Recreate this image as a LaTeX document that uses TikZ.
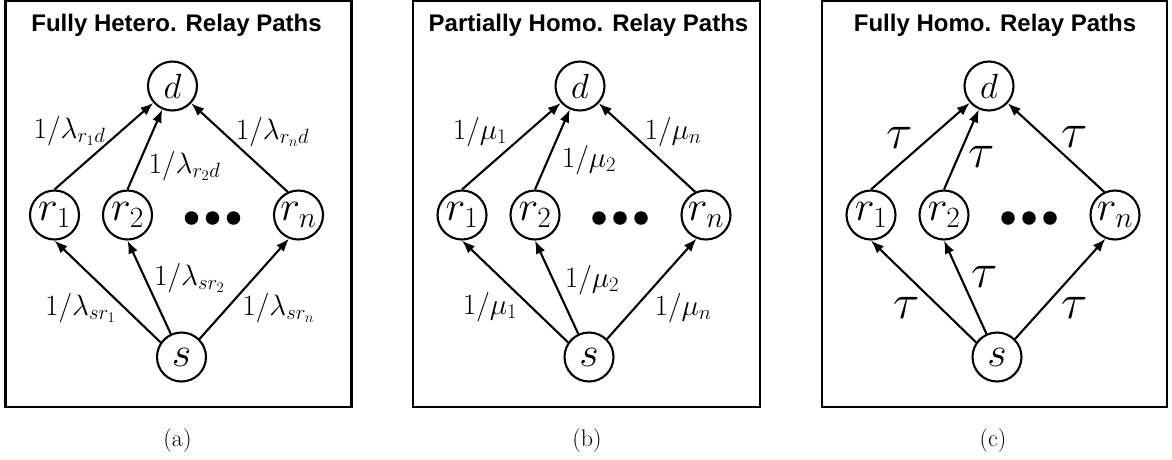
\RequirePackage{fix-cm}
\documentclass[tikz,border=0pt]{standalone}
\usepackage{fontspec}
\newfontfamily\titlefont{Liberation Sans}
\usetikzlibrary{arrows.meta}
\tikzset{
  panelbox/.style={draw, line width=2.5pt},
  vtx/.style={circle, draw, line width=2.1pt, minimum size=49pt, inner sep=0pt},
  dfont/.style={font=\fontsize{35}{37}\selectfont},
  rfont/.style={font=\fontsize{42}{44}\selectfont},
  lbl/.style={font=\fontsize{29.5}{32}\selectfont, inner sep=0pt},
  taulbl/.style={font=\fontsize{49}{51}\selectfont, inner sep=0pt},
  edge/.style={-{Latex[length=13pt,width=10pt]}, line width=2.1pt},
  ttl/.style={font=\fontsize{24}{26}\selectfont\titlefont\bfseries, anchor=base, inner sep=0pt},
  sublbl/.style={font=\fontsize{24}{26}\selectfont, inner sep=0pt},
  dotmark/.style={circle, fill=black, minimum size=13.5pt, inner sep=0pt}
}
\begin{document}
\begin{tikzpicture}[x=1pt,y=-1pt]
\useasboundingbox (0,0) rectangle (1172,459);
% ---------- panel (a)
\begin{scope}[shift={(5.5,0)}]
  \draw[panelbox] (0,1) rectangle (346,407);
  \node[ttl] (a-t) at (171,31) {Fully Hetero. Relay Paths};
  \node[vtx,dfont] (a-d) at (167,86) {$d$};
  \node[vtx,rfont] (a-r1) at (49,215) {$r_1$};
  \node[vtx,rfont] (a-r2) at (122,215) {$r_2$};
  \node[vtx,rfont] (a-rn) at (293,215) {$r_n$};
  \node[vtx,rfont] (a-s) at (176,357) {$s$};
  \node[dotmark] (a-p1) at (186,218) {};
  \node[dotmark] (a-p2) at (207,218) {};
  \node[dotmark] (a-p3) at (228,218) {};
  \draw[edge] (a-r1.north) -- (a-d);
  \draw[edge] (a-r2.north) -- (a-d);
  \draw[edge] (a-rn.115) -- (a-d);
  \draw[edge] (a-s.145) -- (a-r1.south);
  \draw[edge] (a-s) -- (a-r2.south);
  \draw[edge] (a-s.45) -- (a-rn.248);
  \node[lbl] (a-l1) at (64,131) {$1/\lambda_{r_1d}$};
  \node[lbl] (a-l2) at (179,166) {$1/\lambda_{r_2d}$};
  \node[lbl] (a-l3) at (267,132) {$1/\lambda_{r_nd}$};
  \node[lbl] (a-l4) at (75,308) {$1/\lambda_{sr_1}$};
  \node[lbl] (a-l5) at (184,278) {$1/\lambda_{sr_2}$};
  \node[lbl] (a-l6) at (273,308) {$1/\lambda_{sr_n}$};
  \node[sublbl] (a-c) at (172,441) {(a)};
\end{scope}
% ---------- panel (b)
\begin{scope}[shift={(413,0)}]
  \draw[panelbox] (0,1) rectangle (347,407);
  \node[ttl] (b-t) at (175.5,31) {Partially Homo. Relay Paths};
  \node[vtx,dfont] (b-d) at (167,86) {$d$};
  \node[vtx,rfont] (b-r1) at (49,215) {$r_1$};
  \node[vtx,rfont] (b-r2) at (122,215) {$r_2$};
  \node[vtx,rfont] (b-rn) at (293,215) {$r_n$};
  \node[vtx,rfont] (b-s) at (176,357) {$s$};
  \node[dotmark] (b-p1) at (186,218) {};
  \node[dotmark] (b-p2) at (207,218) {};
  \node[dotmark] (b-p3) at (228,218) {};
  \draw[edge] (b-r1.north) -- (b-d);
  \draw[edge] (b-r2.north) -- (b-d);
  \draw[edge] (b-rn.115) -- (b-d);
  \draw[edge] (b-s.145) -- (b-r1.south);
  \draw[edge] (b-s) -- (b-r2.south);
  \draw[edge] (b-s.45) -- (b-rn.248);
  \node[lbl] (b-l1) at (67,132) {$1/\mu_1$};
  \node[lbl] (b-l2) at (176,160) {$1/\mu_2$};
  \node[lbl] (b-l3) at (260,132) {$1/\mu_n$};
  \node[lbl] (b-l4) at (77,307) {$1/\mu_1$};
  \node[lbl] (b-l5) at (179,280) {$1/\mu_2$};
  \node[lbl] (b-l6) at (270,308) {$1/\mu_n$};
  \node[sublbl] (b-c) at (174,441) {(b)};
\end{scope}
% ---------- panel (c)
\begin{scope}[shift={(822,0)}]
  \draw[panelbox] (0,1) rectangle (345,407);
  \node[ttl] (c-t) at (173,31) {Fully Homo. Relay Paths};
  \node[vtx,dfont] (c-d) at (167,86) {$d$};
  \node[vtx,rfont] (c-r1) at (49,215) {$r_1$};
  \node[vtx,rfont] (c-r2) at (122,215) {$r_2$};
  \node[vtx,rfont] (c-rn) at (293,215) {$r_n$};
  \node[vtx,rfont] (c-s) at (175,357) {$s$};
  \node[dotmark] (c-p1) at (186,218) {};
  \node[dotmark] (c-p2) at (207,218) {};
  \node[dotmark] (c-p3) at (228,218) {};
  \draw[edge] (c-r1.north) -- (c-d);
  \draw[edge] (c-r2.north) -- (c-d);
  \draw[edge] (c-rn.115) -- (c-d);
  \draw[edge] (c-s.145) -- (c-r1.south);
  \draw[edge] (c-s) -- (c-r2.south);
  \draw[edge] (c-s.45) -- (c-rn.248);
  \node[taulbl] (c-l1) at (78,138) {$\tau$};
  \node[taulbl] (c-l2) at (160,157) {$\tau$};
  \node[taulbl] (c-l3) at (253,137) {$\tau$};
  \node[taulbl] (c-l4) at (85,308) {$\tau$};
  \node[taulbl] (c-l5) at (163,277) {$\tau$};
  \node[taulbl] (c-l6) at (253,308) {$\tau$};
  \node[sublbl] (c-c) at (171,441) {(c)};
\end{scope}
\end{tikzpicture}
\end{document}
